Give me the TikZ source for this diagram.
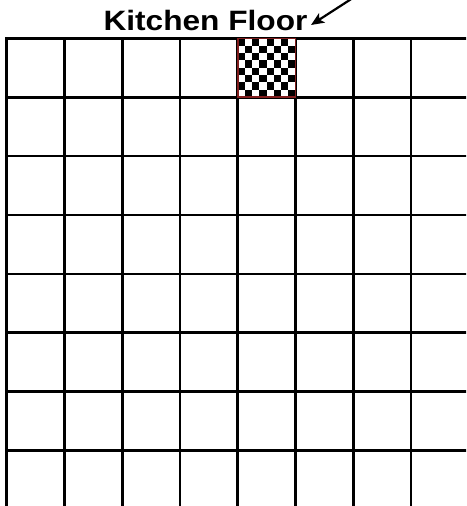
\documentclass[tikz,border=0pt]{standalone}
\usepackage{fontspec}
\setmainfont{Liberation Sans}
\usepackage{graphicx}
\usetikzlibrary{arrows.meta}
\definecolor{tilered}{RGB}{130,30,30}

\begin{document}
\begin{tikzpicture}[x=1pt, y=-1pt,
  gridline/.style={line width=2.7pt, line cap=rect},
  pointer/.style={line width=2.2pt, -{Stealth[length=13pt,width=11pt,inset=3pt]}}]
  \useasboundingbox (0,0) rectangle (466,506);
  \clip (0,0) rectangle (466,506);
  % floor grid
  \foreach \i in {0,...,7}
    \draw[gridline] (6.7+57.75*\i,38.3) -- (6.7+57.75*\i,510);
  \foreach \j in {0,...,7}
    \draw[gridline] (6.7,38.3+58.9*\j) -- (470,38.3+58.9*\j);
  % checkered tile
  \coordinate (T) at (237.7,38.3);
  \fill[white] (T) rectangle ++(57.75,58.9);
  \foreach \r in {0,...,7}
    \foreach \c in {0,...,7} {
      \pgfmathtruncatemacro\s{\r+\c}
      \ifodd\s\else
        \fill (237.7+7.22*\c,38.3+7.36*\r) rectangle ++(7.22,7.36);
      \fi
    }
  \draw[tilered, line width=1.6pt] (T) rectangle ++(57.75,58.9);
  % label
  \node[font=\bfseries\fontsize{28}{32}\selectfont, anchor=base] (title) at (205.5,30)
    {\scalebox{1.13}[1]{Kitchen Floor}};
  \coordinate (src) at (359,-6);
  \draw[pointer] (src) -- ([yshift=-5pt]title.east);
\end{tikzpicture}
\end{document}
